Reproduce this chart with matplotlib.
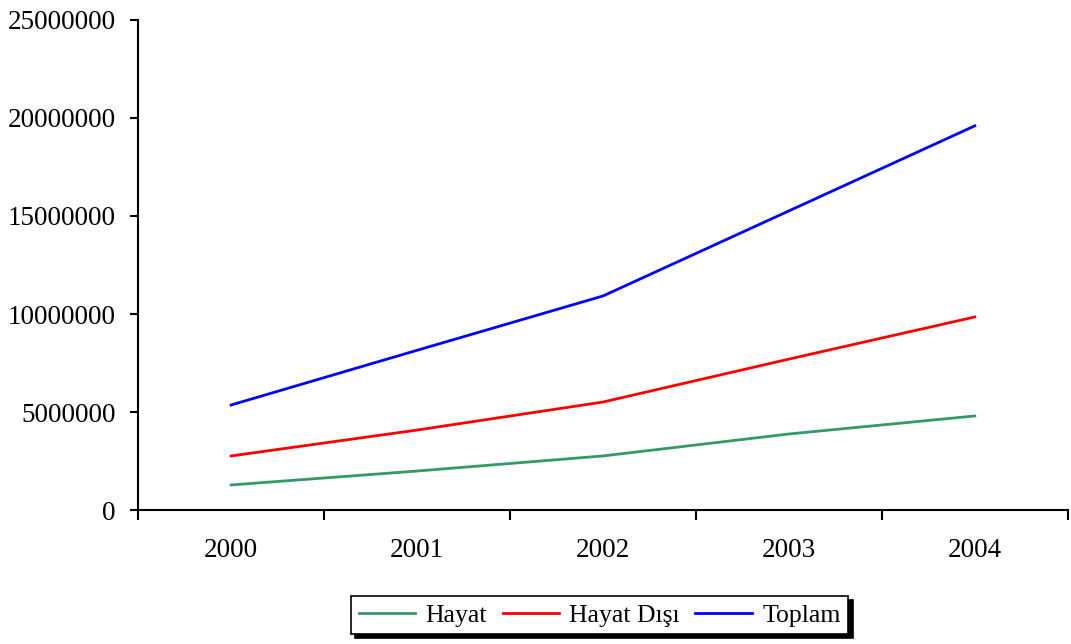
import matplotlib.pyplot as plt
from matplotlib.ticker import FixedLocator, NullFormatter

years = ["2000", "2001", "2002", "2003", "2004"]
hayat = [1280000, 1990000, 2760000, 3880000, 4800000]
hayat_disi = [2760000, 4080000, 5510000, 7700000, 9850000]
toplam = [5360000, 8150000, 10920000, 15260000, 19600000]
y_ticks = [0, 5000000, 10000000, 15000000, 20000000, 25000000]

plt.rcParams['font.family'] = ['Liberation Serif', 'DejaVu Serif']

fig = plt.figure(figsize=(10.71, 6.44), dpi=100)
ax = fig.add_axes([0.129, 0.208, 0.868, 0.761])

x = list(range(len(years)))
ax.plot(x, hayat, color='#339966', lw=2, label='Hayat')
ax.plot(x, hayat_disi, color='#FF0000', lw=2, label='Hayat Dışı')
ax.plot(x, toplam, color='#0000FF', lw=2, label='Toplam')

ax.set_xlim(-0.5, len(years) - 0.5)
ax.set_ylim(0, 25000000)
ax.set_yticks(y_ticks)
ax.set_yticklabels([str(v) for v in y_ticks], fontsize=19.5)

# category boundaries get the ticks, labels sit in the middle
ax.xaxis.set_major_locator(FixedLocator([i - 0.5 for i in range(len(years) + 1)]))
ax.xaxis.set_major_formatter(NullFormatter())
ax.xaxis.set_minor_locator(FixedLocator(x))
ax.set_xticklabels(years, minor=True, fontsize=19.5)
ax.tick_params(axis='x', which='major', direction='out', length=7, width=1.5)
ax.tick_params(axis='x', which='minor', length=0, pad=20)
ax.tick_params(axis='y', direction='out', length=6, width=1.5, pad=10)

for s in ['top', 'right']:
    ax.spines[s].set_visible(False)
for s in ['left', 'bottom']:
    ax.spines[s].set_linewidth(1.5)

leg = fig.legend(loc='center', bbox_to_anchor=(0.56, 0.045), ncol=3, fontsize=18.5,
                 frameon=True, fancybox=False,
                 shadow={'color': 'black', 'alpha': 1, 'ox': 3, 'oy': -3},
                 edgecolor='black', framealpha=1, borderpad=0.3, columnspacing=0.6,
                 handletextpad=0.4, handlelength=2.2)
leg.get_frame().set_linewidth(1.2)

fig.savefig('out.png', dpi=100)
